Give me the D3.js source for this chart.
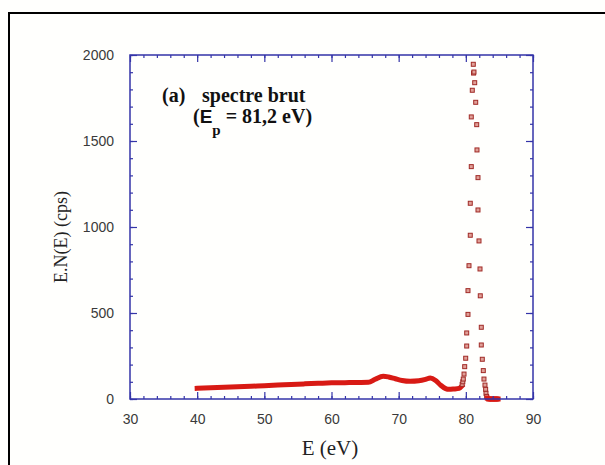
<!DOCTYPE html>
<html><head><meta charset="utf-8">
<script src="https://cdn.jsdelivr.net/npm/d3@7"></script>
<style>
html,body{margin:0;padding:0;background:#fffffd;}
svg{display:block;}
</style></head>
<body>
<svg id="chart" width="605" height="465"></svg>
<script>
// Dense low-energy part (drawn as a thick line)
const lineE = [40, 42, 44, 46, 48, 50, 52, 54, 56, 58, 60, 62, 64, 65.5, 66.5, 67.7, 68.5, 69.5, 70.5, 71.7, 73, 74, 74.7, 75.5, 76.2, 77, 77.5, 78.2, 79, 79.4];
const lineV = [62, 65, 68, 71, 74, 77, 81, 85, 88, 91, 94, 95, 96, 97, 115, 132, 128, 118, 108, 103, 106, 114, 122, 108, 82, 60, 56, 58, 62, 75];
// Elastic peak points (individual markers)
const peakE = [79.45, 79.55, 79.62, 79.73, 79.83, 79.98, 80.13, 80.13, 80.32, 80.32, 80.47, 80.66, 80.66, 80.81, 80.81, 80.96, 81.11, 81.15, 81.21, 81.32, 81.47, 81.62, 81.66, 81.81, 81.81, 81.96, 82.11, 82.15, 82.30, 82.30, 82.45, 82.6, 82.7, 82.85, 82.95, 83.0, 83.1, 83.2, 83.4, 83.6, 83.8, 84.0, 84.2, 84.4, 84.6, 84.8];
const peakV = [85, 100, 116, 145, 188, 237, 308, 384, 492, 630, 775, 952, 1138, 1351, 1640, 1795, 1946, 1895, 1901, 1839, 1725, 1595, 1448, 1287, 1099, 919, 756, 600, 417, 314, 231, 165, 116, 81, 56, 33, 15, 5, 0, 0, 0, 0, 0, 0, 0, 0];
const xTicks = [30, 40, 50, 60, 70, 80, 90];
const yTicks = [0, 500, 1000, 1500, 2000];
const xMinor = d3.range(30, 90.01, 2);
const yMinor = d3.range(0, 2000.1, 100);

const svg = d3.select("#chart");
const axisColor = "#3434a8";
const x = d3.scaleLinear().domain([30, 90]).range([130, 533]);
const y = d3.scaleLinear().domain([0, 2000]).range([399, 55]);

// outer frame
svg.append("rect").attr("x", 9).attr("y", 13).attr("width", 700).attr("height", 600)
  .attr("fill", "none").attr("stroke", "#000").attr("stroke-width", 2);

const tickFont = "'Liberation Sans',Arial,sans-serif";

// data: thick line
const line = d3.line().x((d, i) => x(lineE[i])).y((d, i) => y(lineV[i])).curve(d3.curveMonotoneX);
svg.append("path").datum(lineV).attr("d", line).attr("fill", "none")
  .attr("stroke", "#d81a14").attr("stroke-width", 5).attr("stroke-linecap", "square");

// peak markers
svg.append("g").selectAll("rect").data(peakE).join("rect")
  .attr("x", (d) => x(d) - 2).attr("y", (d, i) => y(peakV[i]) - 2)
  .attr("width", 4).attr("height", 4)
  .attr("fill", (d, i) => peakV[i] < 10 ? "#d81a14" : "#e0a098")
  .attr("stroke", (d, i) => peakV[i] < 10 ? "#d81a14" : "#a02a26").attr("stroke-width", 1);

// axes
svg.append("rect").attr("x", x(30)).attr("y", y(2000)).attr("width", x(90) - x(30)).attr("height", y(0) - y(2000))
  .attr("fill", "none").attr("stroke", axisColor).attr("stroke-width", 1.5);

const axB = d3.axisBottom(x).tickValues(xMinor).tickSize(-3).tickFormat("");
const axT = d3.axisTop(x).tickValues(xMinor).tickSize(-3).tickFormat("");
const axBM = d3.axisBottom(x).tickValues(xTicks).tickSize(-7).tickPadding(15).tickFormat(d3.format("d"));
const axTM = d3.axisTop(x).tickValues(xTicks).tickSize(-7).tickFormat("");
const axL = d3.axisLeft(y).tickValues(yMinor).tickSize(-3).tickFormat("");
const axR = d3.axisRight(y).tickValues(yMinor).tickSize(-3).tickFormat("");
const axLM = d3.axisLeft(y).tickValues(yTicks).tickSize(-7).tickPadding(16).tickFormat(d3.format("d"));
const axRM = d3.axisRight(y).tickValues(yTicks).tickSize(-7).tickFormat("");

function put(ax, tx, ty) {
  const g = svg.append("g").attr("transform", `translate(${tx},${ty})`).call(ax);
  g.select(".domain").remove();
  g.selectAll("line").attr("stroke", axisColor).attr("stroke-width", 1.2);
  g.selectAll("text").attr("fill", "#3a3a3a").style("font-family", tickFont).style("font-size", "14px");
  return g;
}
put(axB, 0, y(0)); put(axT, 0, y(2000));
put(axBM, 0, y(0)); put(axTM, 0, y(2000));
put(axL, x(30), 0); put(axR, x(90), 0);
put(axLM, x(30), 0); put(axRM, x(90), 0);

// axis titles
const serif = "'Liberation Serif','Times New Roman',serif";
svg.append("text").attr("x", 330).attr("y", 455).attr("text-anchor", "middle")
  .style("font-family", serif).style("font-size", "21px").attr("fill", "#222").text("E (eV)");
svg.append("text").attr("transform", "translate(67,237) rotate(-90)").attr("text-anchor", "middle")
  .style("font-family", serif).style("font-size", "18px").attr("fill", "#222").text("E.N(E) (cps)");

// annotation
const ann = svg.append("g").style("font-family", serif).style("font-weight", "bold").attr("fill", "#111");
ann.append("text").attr("x", 162).attr("y", 102).style("font-size", "20px").text("(a)");
ann.append("text").attr("x", 202).attr("y", 102).style("font-size", "20px").text("spectre brut");
const t2 = ann.append("text").attr("x", 193).attr("y", 123).style("font-size", "20px");
t2.append("tspan").text("(");
t2.append("tspan").style("font-family", "'Liberation Sans',Arial,sans-serif").style("font-size", "19px").text("E");
t2.append("tspan").attr("dy", 12).style("font-size", "15px").text("p");
t2.append("tspan").attr("dy", -12).text(" = 81,2 eV)");
</script>
</body></html>
